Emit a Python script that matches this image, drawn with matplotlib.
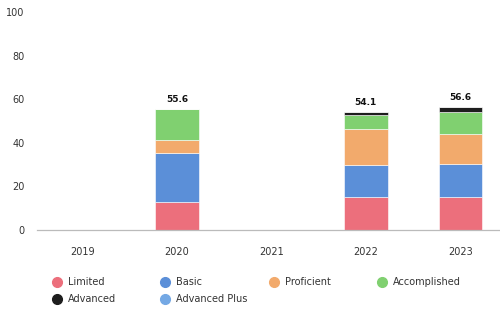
import numpy as np
import matplotlib
matplotlib.use("Agg")
from matplotlib import pyplot as plt
from matplotlib.lines import Line2D

years = ["2019", "2020", "2021", "2022", "2023"]
series = ["Limited", "Basic", "Proficient", "Accomplished", "Advanced", "Advanced Plus"]
colors = ["#ec6f7c", "#5b8fd8", "#f2aa6c", "#80d070", "#1e1e1e", "#74a8e4"]

limited = [0, 13.0, 0, 15.3, 15.3]
basic = [0, 22.2, 0, 14.5, 14.9]
proficient = [0, 6.2, 0, 16.4, 13.8]
accomplished = [0, 14.2, 0, 6.6, 10.0]
advanced = [0, 0, 0, 1.3, 2.6]
advanced_plus = [0, 0, 0, 0, 0]
totals = [None, 55.6, None, 54.1, 56.6]


def main():
    fig = plt.figure(figsize=(5, 3.09), dpi=100)
    ax = fig.add_axes([0.074, 0.256, 0.926, 0.705])

    x = np.arange(len(years))
    bottom = np.zeros(len(years))
    values = [limited, basic, proficient, accomplished, advanced, advanced_plus]
    for vals, c in zip(values, colors):
        ax.bar(x, vals, 0.46, bottom=bottom, color=c, edgecolor="white", linewidth=0.4)
        bottom += np.array(vals)

    for xi, t in zip(x, totals):
        if t is not None:
            ax.text(xi, bottom[xi] + 2.2, f"{t:.1f}", ha="center", va="bottom",
                    fontsize=6.5, fontweight="bold", color="#111111")

    ax.set_xlim(-0.48, 4.42)
    ax.set_ylim(0, 100)
    ax.set_yticks([0, 20, 40, 60, 80, 100])
    ax.set_xticks(x)
    ax.set_xticklabels(years)
    ax.tick_params(axis="both", length=0, labelsize=7, labelcolor="#333333")
    ax.tick_params(axis="x", pad=12)
    ax.tick_params(axis="y", pad=9)
    for s in ["top", "right", "left"]:
        ax.spines[s].set_visible(False)
    ax.spines["bottom"].set_color("#bbbbbb")
    ax.spines["bottom"].set_linewidth(0.9)

    # legend laid out like the original: 4 per row
    for i, (name, c) in enumerate(zip(series, colors)):
        col, row = i % 4, i // 4
        mx = 0.114 + col * 0.2165
        my = 0.088 - row * 0.056
        fig.add_artist(Line2D([mx], [my], marker="o", markersize=7, color=c,
                              linestyle="none", transform=fig.transFigure))
        fig.text(mx + 0.022, my, name, fontsize=7, color="#333333", va="center")

    fig.savefig("out.png", dpi=100)


if __name__ == '__main__':
    main()
